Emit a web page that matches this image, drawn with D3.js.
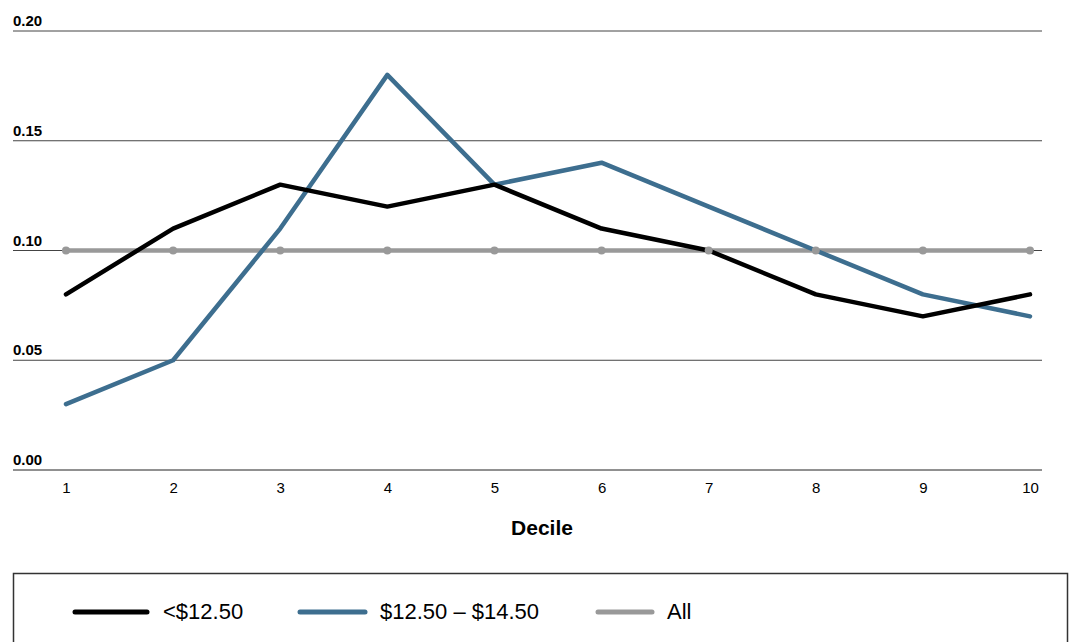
<!DOCTYPE html>
<html><head><meta charset="utf-8">
<script src="https://cdn.jsdelivr.net/npm/d3@7"></script>
<style>
html,body{margin:0;padding:0;background:#fff;}
svg{display:block;font-family:"Liberation Sans",Arial,Helvetica,sans-serif;}
</style></head>
<body>
<svg id="chart" width="1069" height="642"></svg>
<script>
const deciles = [1,2,3,4,5,6,7,8,9,10];
const seriesNames = ["<$12.50", "$12.50 – $14.50", "All"];
const lowWage = [0.08,0.11,0.13,0.12,0.13,0.11,0.10,0.08,0.07,0.08];
const midWage = [0.03,0.05,0.11,0.18,0.13,0.14,0.12,0.10,0.08,0.07];
const allWage = [0.10,0.10,0.10,0.10,0.10,0.10,0.10,0.10,0.10,0.10];
const yTicks = [0.00,0.05,0.10,0.15,0.20];
const colors = ["#000000","#3d6e8f","#999999"];

const svg = d3.select("#chart");
const x = d3.scaleLinear().domain([1,10]).range([66,1030]);
const y = d3.scaleLinear().domain([0,0.2]).range([470,31]);

// gridlines + y labels
const g = svg.append("g");
g.selectAll("line.grid").data(yTicks).enter().append("line")
  .attr("x1",13).attr("x2",1042)
  .attr("y1",d=>y(d)).attr("y2",d=>y(d))
  .attr("stroke",d=>d===0?"#222":"#444").attr("stroke-width",1);
g.selectAll("text.yl").data(yTicks).enter().append("text")
  .attr("x",13).attr("y",d=>y(d)-5)
  .style("font-size","15px").attr("font-weight","bold").attr("fill","#000")
  .text(d=>d3.format(".2f")(d));

// x axis labels
const xAxis = d3.axisBottom(x).tickValues(deciles).tickSize(0).tickPadding(0).tickFormat(d3.format("d"));
const xg = svg.append("g").attr("transform","translate(0,482)").call(xAxis);
xg.select(".domain").remove();
xg.attr("font-size",null).attr("font-family",null);
xg.selectAll("text").style("font-size","15px").attr("fill","#000");

svg.append("text").attr("x",542).attr("y",535).attr("text-anchor","middle")
  .style("font-size","21px").attr("font-weight","bold").text("Decile");

const line = d3.line().x((d,i)=>x(deciles[i])).y(d=>y(d));
const data = [allWage, midWage, lowWage];
const cols = [colors[2], colors[1], colors[0]];
data.forEach((s,k)=>{
  svg.append("path").datum(s).attr("d",line)
    .attr("fill","none").attr("stroke",cols[k]).attr("stroke-width",4.5)
    .attr("stroke-linecap","round").attr("stroke-linejoin","round");
});
svg.selectAll("circle.all").data(allWage).enter().append("circle")
  .attr("cx",(d,i)=>x(deciles[i])).attr("cy",d=>y(d)).attr("r",4).attr("fill",colors[2]);

// legend
svg.append("rect").attr("x",13.5).attr("y",573.5).attr("width",1054).attr("height",80)
  .attr("fill","none").attr("stroke","#333").attr("stroke-width",1.5);
const legX = [[75,147,163],[300,365,380],[598,652,667]];
seriesNames.forEach((n,i)=>{
  svg.append("line").attr("x1",legX[i][0]).attr("x2",legX[i][1])
    .attr("y1",612).attr("y2",612).attr("stroke",colors[i]).attr("stroke-width",5)
    .attr("stroke-linecap","round");
  svg.append("text").attr("x",legX[i][2]).attr("y",619).style("font-size","22px")
    .attr("fill","#000").text(n);
});
</script>
</body></html>
